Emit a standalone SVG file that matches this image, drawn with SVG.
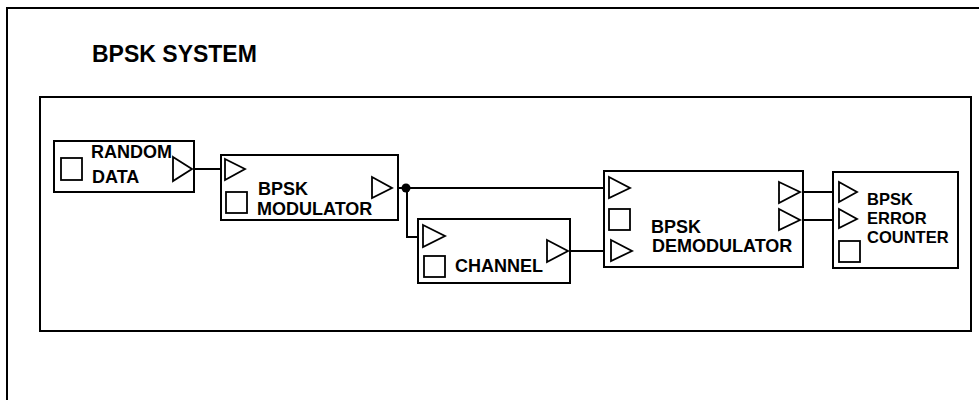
<svg xmlns="http://www.w3.org/2000/svg" width="979" height="400" viewBox="0 0 979 400">
<style>
.frame{fill:none;stroke:#000;stroke-width:2}
.box{fill:#fff;stroke:#000;stroke-width:2}
.port{fill:none;stroke:#000;stroke-width:1.8;stroke-linejoin:miter}
.sq{fill:none;stroke:#000;stroke-width:1.8}
.wire{fill:none;stroke:#000;stroke-width:2}
.lbl{font-family:"Liberation Sans",Arial,sans-serif;font-weight:bold;font-size:18px;fill:#000}
.lbl-s{font-family:"Liberation Sans",Arial,sans-serif;font-weight:bold;font-size:16.5px;fill:#000}
.title{font-family:"Liberation Sans",Arial,sans-serif;font-weight:bold;font-size:23px;fill:#000}
</style>
<rect width="979" height="400" fill="#fff"/>
<path class="frame" d="M7,400 V8 H979"/>
<text class="title" x="92" y="62">BPSK SYSTEM</text>
<rect class="frame" x="40" y="97" width="931" height="234"/>
<g id="connectors">
<path class="wire" d="M192,169 H221"/>
<path class="wire" d="M392,188 H604"/>
<path class="wire" d="M407,188 V237 H418"/>
<path class="wire" d="M568,251 H604"/>
<path class="wire" d="M800,192 H833"/>
<path class="wire" d="M800,220 H833"/>
<circle cx="406" cy="188" r="4.5" fill="#000"/>
</g>
<g id="random-data">
<rect class="box" x="54" y="141" width="140" height="51"/>
<rect class="sq" x="61" y="158" width="21" height="22"/>
<path class="port" d="M173,157 L192,169 L173,181 Z"/>
<text class="lbl" x="91" y="158">RANDOM</text>
<text class="lbl" x="92" y="183">DATA</text>
</g>
<g id="bpsk-modulator">
<rect class="box" x="221" y="155" width="177" height="65"/>
<path class="port" d="M225,159 L245,169 L225,180 Z"/>
<rect class="sq" x="226" y="192" width="21" height="21"/>
<path class="port" d="M372,177 L392,188 L372,198 Z"/>
<text class="lbl" x="258" y="195">BPSK</text>
<text class="lbl" x="257" y="215">MODULATOR</text>
</g>
<g id="channel">
<rect class="box" x="418" y="219" width="152" height="64"/>
<path class="port" d="M423,225 L445,236 L423,247 Z"/>
<rect class="sq" x="424" y="256" width="21" height="21"/>
<path class="port" d="M547,240 L568,251 L547,262 Z"/>
<text class="lbl" x="455" y="272">CHANNEL</text>
</g>
<g id="bpsk-demodulator">
<rect class="box" x="604" y="171" width="199" height="96"/>
<path class="port" d="M609,177 L630,188 L609,198 Z"/>
<rect class="sq" x="609" y="209" width="21" height="21"/>
<path class="port" d="M611,240 L632,251 L611,261 Z"/>
<path class="port" d="M779,182 L800,192 L779,203 Z"/>
<path class="port" d="M779,209 L800,220 L779,230 Z"/>
<text class="lbl" x="651" y="233">BPSK</text>
<text class="lbl" x="652" y="252">DEMODULATOR</text>
</g>
<g id="bpsk-error-counter">
<rect class="box" x="833" y="172" width="125" height="96"/>
<path class="port" d="M839,182 L857,192 L839,202 Z"/>
<path class="port" d="M839,209 L857,219 L839,228 Z"/>
<rect class="sq" x="839" y="241" width="21" height="21"/>
<text class="lbl-s" x="867" y="205">BPSK</text>
<text class="lbl-s" x="867" y="224">ERROR</text>
<text class="lbl-s" x="867" y="243">COUNTER</text>
</g>
</svg>
